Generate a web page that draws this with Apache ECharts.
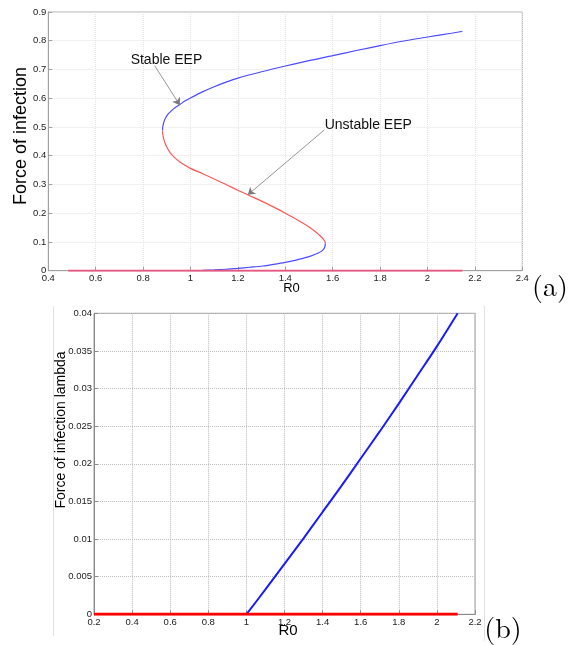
<!DOCTYPE html>
<html>
<head>
<meta charset="utf-8">
<script src="https://cdn.jsdelivr.net/npm/echarts@6/dist/echarts.min.js"></script>
<style>
html,body{margin:0;padding:0;background:#fff;}
#main{width:571px;height:645px;}
</style>
</head>
<body>
<div id="main"></div>
<script>
// ---------- Panel (a) data ----------
const xTicksA = [0.4, 0.6, 0.8, 1, 1.2, 1.4, 1.6, 1.8, 2, 2.2, 2.4];
const yTicksA = [0, 0.1, 0.2, 0.3, 0.4, 0.5, 0.6, 0.7, 0.8, 0.9];

const stableR0 = [0.882, 0.883, 0.886, 0.891, 0.8985, 0.908, 0.92, 0.936, 0.955, 0.976, 1.0, 1.05, 1.1, 1.15, 1.2, 1.3, 1.4, 1.5, 1.6, 1.7, 1.8, 1.9, 2.0, 2.1, 2.147];
const stableF  = [0.488, 0.50, 0.512, 0.525, 0.537, 0.547, 0.557, 0.568, 0.578, 0.590, 0.601, 0.622, 0.640, 0.656, 0.670, 0.692, 0.712, 0.731, 0.748, 0.766, 0.783, 0.799, 0.813, 0.826, 0.833];

const unstableR0 = [0.882, 0.883, 0.886, 0.892, 0.9025, 0.915, 0.93, 0.955, 1.0, 1.05, 1.1, 1.15, 1.2, 1.25, 1.3, 1.35, 1.4, 1.45, 1.5, 1.53, 1.55, 1.562, 1.568, 1.569];
const unstableF  = [0.488, 0.475, 0.462, 0.445, 0.426, 0.41, 0.396, 0.378, 0.356, 0.338, 0.319, 0.30, 0.28, 0.261, 0.242, 0.222, 0.20, 0.177, 0.152, 0.134, 0.119, 0.108, 0.10, 0.095];

const lowR0 = [1.569, 1.568, 1.565, 1.555, 1.537, 1.52, 1.5, 1.47, 1.446, 1.4, 1.35, 1.305, 1.25, 1.2, 1.15, 1.1, 1.05, 1.0];
const lowF  = [0.095, 0.087, 0.079, 0.069, 0.0605, 0.055, 0.049, 0.042, 0.037, 0.029, 0.022, 0.0164, 0.012, 0.0083, 0.005, 0.0026, 0.001, 0];

const dfeR0A = [0.484, 2.147];
const dfeFA  = [0, 0];

// annotation anchors (data coordinates)
const stableLabel = {text: 'Stable EEP', at: [0.8985, 0.734], from: [0.849, 0.713], to: [0.955, 0.576]};
const unstableLabel = {text: 'Unstable EEP', at: [1.75, 0.508], from: [1.565, 0.49], to: [1.242, 0.264]};

// ---------- Panel (b) data ----------
const xTicksB = [0.2, 0.4, 0.6, 0.8, 1, 1.2, 1.4, 1.6, 1.8, 2, 2.2];
const yTicksB = [0, 0.005, 0.01, 0.015, 0.02, 0.025, 0.03, 0.035, 0.04];

const bR0     = [1.0, 1.1, 1.2, 1.3, 1.4, 1.5, 1.6, 1.7, 1.8, 1.9, 2.0, 2.109];
const bLambda = [0, 0.0033, 0.0067, 0.0101, 0.0136, 0.0171, 0.0207, 0.0243, 0.0280, 0.0318, 0.0356, 0.04];

const dfeR0B = [0.2, 2.109];
const dfeLB  = [0, 0];

const zip = (a, b) => a.map((v, i) => [v, b[i]]);
const fmt = v => String(parseFloat(v.toFixed(4)));

const FONT = '"Liberation Sans", Arial, sans-serif';
const SERIF = '"Latin Modern Roman","DejaVu Serif","Liberation Serif", serif';

const chart = echarts.init(document.getElementById('main'), null, {renderer: 'canvas', width: 571, height: 645});

function xAxisCfg(grid, ticks, splitType, splitColor, axisColor) {
  return {
    gridIndex: grid, type: 'value',
    min: ticks[0], max: ticks[ticks.length - 1], interval: ticks[1] - ticks[0],
    axisLine: {show: true, onZero: false, lineStyle: {color: axisColor, width: 1}},
    axisTick: {show: true, inside: true, length: 4, lineStyle: {color: axisColor}},
    axisLabel: {fontFamily: FONT, fontSize: 9.5, color: '#222', margin: 3, formatter: fmt, showMinLabel: true, showMaxLabel: true},
    splitLine: {show: true, lineStyle: {type: splitType, color: splitColor, width: 1}}
  };
}
function yAxisCfg(grid, ticks, splitType, splitColor, axisColor) {
  return {
    gridIndex: grid, type: 'value',
    min: ticks[0], max: ticks[ticks.length - 1], interval: ticks[1] - ticks[0],
    axisLine: {show: true, onZero: false, lineStyle: {color: axisColor, width: 1}},
    axisTick: {show: true, inside: true, length: 4, lineStyle: {color: axisColor}},
    axisLabel: {fontFamily: FONT, fontSize: 9.5, color: '#222', margin: 2, formatter: fmt, showMinLabel: true, showMaxLabel: true},
    splitLine: {show: true, lineStyle: {type: splitType, color: splitColor, width: 1}}
  };
}

const lineS = (xi, data, color, width, z, smooth) => ({
  type: 'line', xAxisIndex: xi, yAxisIndex: xi, data: data,
  showSymbol: false, symbol: 'none', smooth: smooth || false, animation: false, z: z || 2,
  lineStyle: {color: color, width: width}, silent: true
});

const arrowLine = (ann) => ({
  silent: true, animation: false, symbol: ['none', 'arrow'], symbolSize: 7,
  label: {show: false},
  lineStyle: {color: '#7a7a7a', width: 0.8, type: 'solid'},
  data: [[{coord: ann.from}, {coord: ann.to}]]
});

const stableSeries = lineS(0, zip(stableR0, stableF), '#4b4bff', 1.2, 2, 0.3);
stableSeries.markLine = arrowLine(stableLabel);
const unstableSeries = lineS(0, zip(unstableR0, unstableF), '#ff5757', 1.2, 2, 0.3);
unstableSeries.markLine = arrowLine(unstableLabel);

const option = {
  backgroundColor: '#fff',
  animation: false,
  grid: [
    {left: 48.3, top: 12, width: 474, height: 258.7, show: true, borderColor: '#b0b0b0', borderWidth: 1},
    {left: 94, top: 313.3, width: 381, height: 301, show: true, borderColor: '#9a9a9a', borderWidth: 1}
  ],
  xAxis: [
    xAxisCfg(0, xTicksA, 'dotted', '#e4e4e4', '#a0a0a0'),
    xAxisCfg(1, xTicksB, 'dotted', '#bdbdbd', '#8a8a8a')
  ],
  yAxis: [
    yAxisCfg(0, yTicksA, 'dotted', '#e4e4e4', '#a0a0a0'),
    yAxisCfg(1, yTicksB, 'dotted', '#bdbdbd', '#8a8a8a')
  ],
  series: [
    stableSeries,
    unstableSeries,
    lineS(0, zip(lowR0, lowF), '#4b4bff', 1.2, 2, 0.3),
    lineS(0, zip(dfeR0A, dfeFA), '#e8557f', 2, 3),
    lineS(1, zip(bR0, bLambda), '#1a1aff', 2, 2, 0.3),
    lineS(1, zip(dfeR0B, dfeLB), '#ff0000', 3, 3)
  ]
};
chart.setOption(option);

const pA = (pt) => chart.convertToPixel({gridIndex: 0}, pt);
const sA = pA(stableLabel.at), uA = pA(unstableLabel.at);

chart.setOption({
  graphic: [
    // figure frame lines of panel (b)
    {type: 'line', shape: {x1: 53.5, y1: 306, x2: 53.5, y2: 636}, style: {stroke: '#e2e2e2', lineWidth: 1}, silent: true},
    {type: 'line', shape: {x1: 484.5, y1: 306, x2: 484.5, y2: 641}, style: {stroke: '#e2e2e2', lineWidth: 1}, silent: true},
    // annotations
    {type: 'text', x: sA[0], y: sA[1], style: {text: stableLabel.text, font: '14px ' + FONT, fill: '#111', textAlign: 'center', textVerticalAlign: 'middle'}, silent: true, z: 10},
    {type: 'text', x: uA[0], y: uA[1], style: {text: unstableLabel.text, font: '14px ' + FONT, fill: '#111', textAlign: 'center', textVerticalAlign: 'middle'}, silent: true, z: 10},
    // axis titles
    {type: 'text', x: 21.5, y: 136, rotation: Math.PI / 2, style: {text: 'Force of infection', font: '18px ' + FONT, fill: '#000', textAlign: 'center', textVerticalAlign: 'middle'}, silent: true},
    {type: 'text', x: 291.5, y: 288, style: {text: 'R0', font: '13px ' + FONT, fill: '#000', textAlign: 'center', textVerticalAlign: 'middle'}, silent: true},
    {type: 'text', x: 61, y: 430, rotation: Math.PI / 2, style: {text: 'Force of infection lambda', font: '14px ' + FONT, fill: '#000', textAlign: 'center', textVerticalAlign: 'middle'}, silent: true},
    {type: 'text', x: 288, y: 631, style: {text: 'R0', font: '15px ' + FONT, fill: '#000', textAlign: 'center', textVerticalAlign: 'middle'}, silent: true},
    // panel letters
    {type: 'text', x: 550, y: 287, style: {text: '(a)', font: '28px ' + SERIF, fill: '#000', textAlign: 'center', textVerticalAlign: 'middle'}, silent: true},
    {type: 'text', x: 503, y: 629, style: {text: '(b)', font: '28px ' + SERIF, fill: '#000', textAlign: 'center', textVerticalAlign: 'middle'}, silent: true}
  ]
});
</script>
</body>
</html>
